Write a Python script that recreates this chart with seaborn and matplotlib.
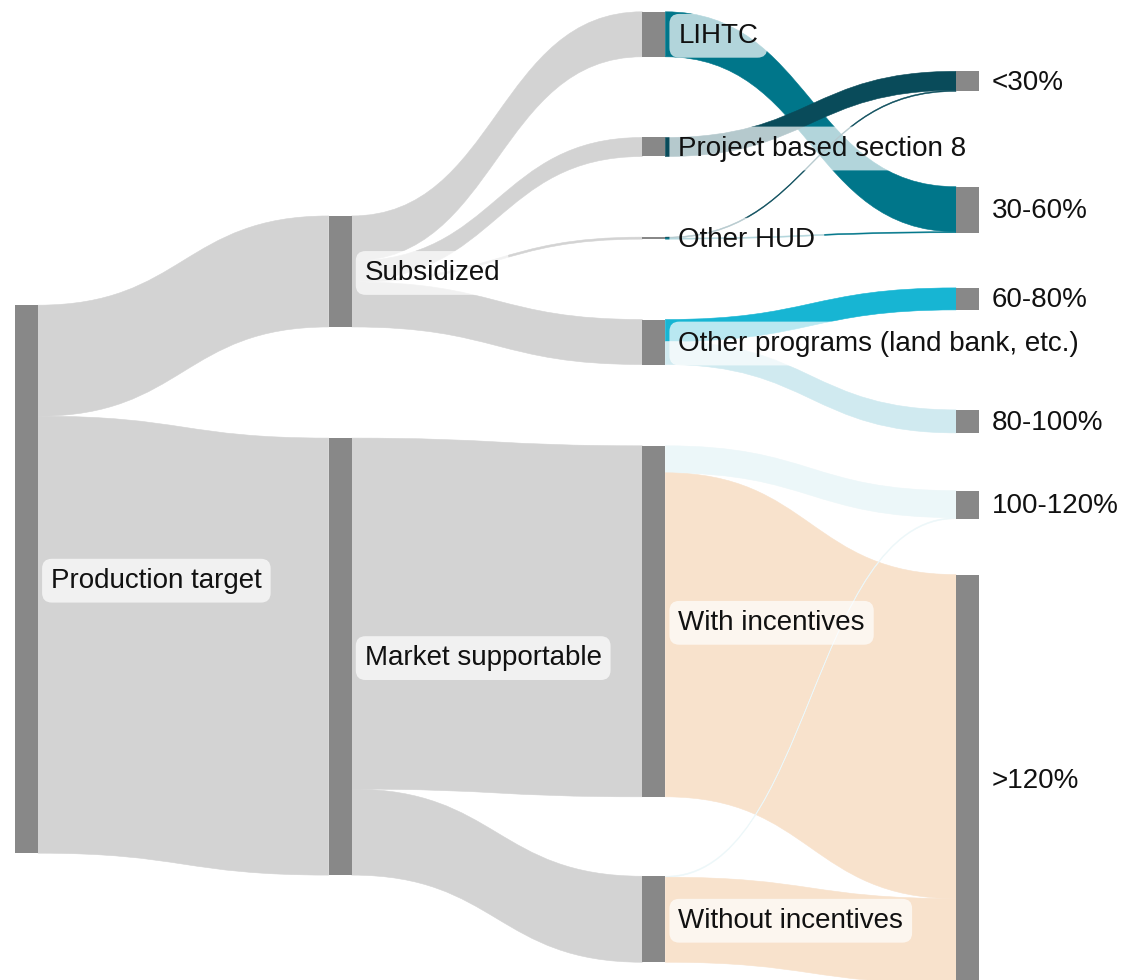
import numpy as np
import seaborn as sns
import matplotlib.pyplot as plt
from matplotlib.path import Path
from matplotlib.patches import PathPatch

# nodes
node_labels = ["Production target", "Subsidized", "Market supportable",
               "LIHTC", "Project based section 8", "Other HUD",
               "Other programs (land bank, etc.)", "With incentives",
               "Without incentives", "<30%", "30-60%", "60-80%", "80-100%",
               "100-120%", ">120%"]

# links (source index, target index, value)
link_source = [0, 0, 1, 1, 1, 1, 2, 2, 3, 4, 5, 5, 6, 6, 7, 7, 8, 8]
link_target = [1, 2, 3, 4, 5, 6, 7, 8, 10, 9, 9, 10, 11, 12, 13, 14, 13, 14]
link_value = [111, 437, 45, 19, 2, 45, 351, 86, 45, 19, 1, 1, 22, 23, 27, 324, 1, 85]

# layout (plotly-like arrangement: column fraction and node centre fraction)
node_x = [0, 1/3, 1/3, 2/3, 2/3, 2/3, 2/3, 2/3, 2/3, 1, 1, 1, 1, 1, 1]
node_y = [0.591, 0.277, 0.670, 0.035, 0.150, 0.243, 0.349, 0.634, 0.938,
          0.083, 0.214, 0.305, 0.430, 0.515, 0.795]

grey_link = "#d3d3d3"
target_colors = {9: "#094b5a", 10: "#00768a", 11: "#17b5d3", 12: "#d0eaf0",
                 13: "#ecf7f9", 14: "#f8e2cc"}

W, H = 1131, 980
x_left, x_right, node_w = 15, 979, 23
px_per_unit = 1.0

sns.set_theme(style="white")
plt.rcParams['font.family'] = ['Liberation Sans', 'DejaVu Sans']

fig = plt.figure(figsize=(W / 100, H / 100), dpi=100)
ax = fig.add_axes([0, 0, 1, 1])
ax.set_xlim(0, W)
ax.set_ylim(H, 0)
ax.axis("off")

n = len(node_labels)
inflow = np.zeros(n)
outflow = np.zeros(n)
for s, t, v in zip(link_source, link_target, link_value):
    outflow[s] += v
    inflow[t] += v
node_val = np.maximum(inflow, outflow)
node_h = node_val * px_per_unit
node_left = [x_left + f * (x_right - node_w - x_left) for f in node_x]
node_top = [f * H - h / 2 for f, h in zip(node_y, node_h)]

# stack link ends on each node, ordered by the position of the other end
src_off = {}
tgt_off = {}
for i in range(n):
    outs = sorted([k for k in range(len(link_value)) if link_source[k] == i],
                  key=lambda k: node_y[link_target[k]])
    y = node_top[i]
    for k in outs:
        src_off[k] = y
        y += link_value[k] * px_per_unit
    ins = sorted([k for k in range(len(link_value)) if link_target[k] == i],
                 key=lambda k: node_y[link_source[k]])
    y = node_top[i]
    for k in ins:
        tgt_off[k] = y
        y += link_value[k] * px_per_unit

for k, (s, t, v) in enumerate(zip(link_source, link_target, link_value)):
    x0 = node_left[s] + node_w
    x1 = node_left[t]
    xm = (x0 + x1) / 2
    h = v * px_per_unit
    a0, a1 = src_off[k], tgt_off[k]
    verts = [(x0, a0), (xm, a0), (xm, a1), (x1, a1),
             (x1, a1 + h), (xm, a1 + h), (xm, a0 + h), (x0, a0 + h), (x0, a0)]
    codes = [Path.MOVETO, Path.CURVE4, Path.CURVE4, Path.CURVE4,
             Path.LINETO, Path.CURVE4, Path.CURVE4, Path.CURVE4, Path.CLOSEPOLY]
    col = target_colors.get(t, grey_link)
    ax.add_patch(PathPatch(Path(verts, codes), facecolor=col, edgecolor=col,
                           lw=0.4, zorder=1))

ax.bar(node_left, node_h, bottom=node_top, width=node_w, align="edge",
       color="#888888", linewidth=0, zorder=2)

for i, lab in enumerate(node_labels):
    ax.text(node_left[i] + node_w + 13, node_top[i] + node_h[i] / 2 + 1.5, lab,
            ha="left", va="center", fontsize=20, color="#111111", zorder=3,
            bbox=dict(boxstyle="round,pad=0.32,rounding_size=0.35",
                      fc="white", ec="none", alpha=0.7))

fig.savefig("out.png", dpi=100)
